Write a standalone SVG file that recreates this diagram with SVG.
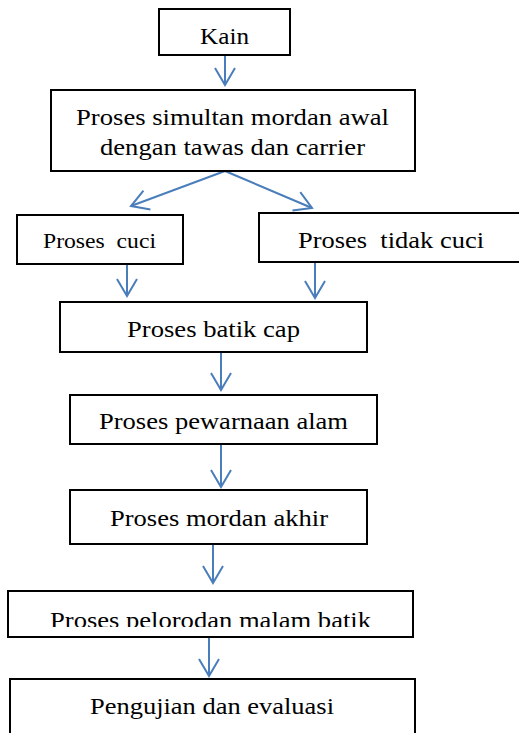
<svg xmlns="http://www.w3.org/2000/svg" width="519" height="733" viewBox="0 0 519 733">
<style>
.box{fill:#fff;stroke:#000;stroke-width:2}
.t{font-size:24px;fill:#000}
.c{fill:none;stroke:#4A7EBB;stroke-width:2;marker-end:url(#ah)}
</style>
<defs>
<marker id="ah" viewBox="-19 -12 22 24" refX="0" refY="0" markerWidth="22" markerHeight="24" markerUnits="userSpaceOnUse" orient="auto">
<path d="M-17,-10 L0,0 L-17,10" fill="none" stroke="#4A7EBB" stroke-width="2"/>
</marker>
<clipPath id="clipPel"><rect x="8" y="591" width="406" height="36"/></clipPath>
</defs>
<rect width="519" height="733" fill="#fff"/>
<g id="connectors">
<path class="c" d="M225,55 V85"/>
<path class="c" d="M225,171 L131,206"/>
<path class="c" d="M225,171 L312,208"/>
<path class="c" d="M127,264 V296"/>
<path class="c" d="M315,263 V298"/>
<path class="c" d="M221,352 V390"/>
<path class="c" d="M221,444 V487"/>
<path class="c" d="M213,544 V583"/>
<path class="c" d="M209,637 V676"/>
</g>
<g font-family="Liberation Serif, Times New Roman, DejaVu Serif, serif">
<g id="kain"><rect class="box" x="159" y="9" width="131" height="46"/><text class="t" x="200" y="44" textLength="49" lengthAdjust="spacingAndGlyphs">Kain</text></g>
<g id="simultan"><rect class="box" x="51" y="90" width="364" height="81"/><text class="t" x="76" y="125" textLength="313" lengthAdjust="spacingAndGlyphs">Proses simultan mordan awal</text><text class="t" x="100" y="155" textLength="265" lengthAdjust="spacingAndGlyphs">dengan tawas dan carrier</text></g>
<g id="cuci"><rect class="box" x="17" y="215" width="166" height="49"/><text class="t" x="43" y="248" style="font-size:21px;white-space:pre" xml:space="preserve" textLength="113" lengthAdjust="spacingAndGlyphs">Proses  cuci</text></g>
<g id="tidakcuci"><rect class="box" x="259" y="213" width="270" height="49"/><text class="t" x="298" y="248" style="white-space:pre" xml:space="preserve" textLength="186" lengthAdjust="spacingAndGlyphs">Proses  tidak cuci</text></g>
<g id="batikcap"><rect class="box" x="60" y="302" width="307" height="50"/><text class="t" x="127" y="337" textLength="173" lengthAdjust="spacingAndGlyphs">Proses batik cap</text></g>
<g id="pewarnaan"><rect class="box" x="70" y="395" width="307" height="49"/><text class="t" x="99" y="429" textLength="249" lengthAdjust="spacingAndGlyphs">Proses pewarnaan alam</text></g>
<g id="mordanakhir"><rect class="box" x="70" y="490" width="297" height="54"/><text class="t" x="110" y="526" textLength="218" lengthAdjust="spacingAndGlyphs">Proses mordan akhir</text></g>
<g id="pelorodan"><rect class="box" x="8" y="591" width="405" height="46"/><text class="t" x="50" y="628" clip-path="url(#clipPel)" textLength="321" lengthAdjust="spacingAndGlyphs">Proses pelorodan malam batik</text></g>
<g id="pengujian"><rect class="box" x="10" y="679" width="405" height="70"/><text class="t" x="90" y="714" textLength="244" lengthAdjust="spacingAndGlyphs">Pengujian dan evaluasi</text></g>
</g>
</svg>
